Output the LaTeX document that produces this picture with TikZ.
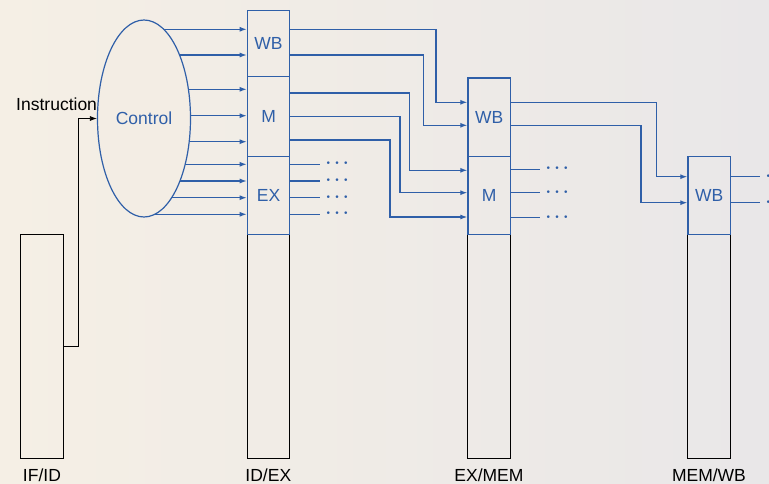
\documentclass[tikz,border=0pt]{standalone}
\usepackage{fontspec}
\setmainfont{Liberation Sans}
\usetikzlibrary{arrows.meta,positioning,shapes.geometric,backgrounds}
\definecolor{ctl}{HTML}{2F5FA8}
\definecolor{paperL}{HTML}{F5EFE5}
\definecolor{paperR}{HTML}{E9E7E8}
\definecolor{paperC}{HTML}{F3EDE4}

\begin{document}
\begin{tikzpicture}[x=1pt, y=-1pt,
  sig/.style={draw=ctl, line width=1.2pt, -{Latex[length=7pt,width=5pt]}},
  wire/.style={draw=ctl, line width=1.2pt},
  field/.style={draw=ctl, line width=1.2pt, minimum width=42.5pt, inner sep=0pt, anchor=north west, text=ctl, font=\fontsize{17.5}{20}\selectfont},
  reg/.style={draw=black, line width=0.8pt, minimum width=42.5pt, minimum height=224pt, inner sep=0pt, anchor=north west},
  lbl/.style={font=\fontsize{17.5}{20}\selectfont},
  more/.style={text=ctl, font=\fontsize{16}{16}\selectfont\boldmath, anchor=mid west, inner sep=0pt, xshift=5pt, yshift=-1pt}
]
  \useasboundingbox (0,0) rectangle (769,484);

  % pipeline registers
  \node[reg] (ifid) at (20.3,234) {};
  \node[reg] (idex) at (246.7,234) {};
  \node[reg] (exmem) at (467.3,234) {};
  \node[reg] (memwb) at (687.3,234) {};

  % control fields carried along
  \node[field, minimum height=65.7pt] (idwb) at (246.7,10.3) {WB};
  \node[field, minimum height=80pt] (idm) at (246.7,76) {M};
  \node[field, minimum height=78pt] (idexf) at (246.7,156) {EX};
  \node[field, minimum height=78.5pt] (exwb) at (467.3,77.5) {WB};
  \node[field, minimum height=78pt] (exm) at (467.3,156) {M};
  \node[field, minimum height=78pt] (mwb) at (687.3,156) {WB};

  \node[ellipse, draw=ctl, line width=1.2pt, fill=paperC, minimum width=93pt, minimum height=197pt, inner sep=0pt, text=ctl, font=\fontsize{17.5}{20}\selectfont] (ctrl) at (144,118.5) {Control};

  \node[lbl, anchor=south east] (instr) at (100.5,114) {Instruction};

  \node[lbl, below=6pt of ifid] (ifidname) {IF/ID};
  \node[lbl, below=6pt of idex] (idexname) {ID/EX};
  \node[lbl, below=6pt of exmem] (exmemname) {EX/MEM};
  \node[lbl, below=6pt of memwb] (memwbname) {MEM/WB};

  \begin{scope}[on background layer]
    \shade[left color=paperL, right color=paperR] (0,0) rectangle (769,484);
    \foreach \y in {29.3,55,89.3,115.7,141.7,164.3,181,197.7,214.3}
      \draw[sig] (ctrl.center |- 0,\y) -- (idwb.west |- 0,\y);
  \end{scope}

  \draw[black, line width=0.8pt, -{Latex[length=7pt,width=5pt]}] (ifid.east |- 0,346.7) -- (78.4,346.7) |- (ctrl.west);

  % ID/EX -> EX/MEM
  \foreach \ya/\xm/\yb/\src/\dst in {29.3/436/102.3/idwb/exwb, 55/423.3/125.3/idwb/exwb,
      93/409.3/170.3/idm/exm, 116.7/400/192.7/idm/exm, 140/390/217/idm/exm}
    \draw[sig] (\src.east |- 0,\ya) -| (\xm,\yb) -- (\dst.west |- 0,\yb);

  \foreach \y [count=\i] in {164.3,181,197.7,214.3}
    \draw[wire] (idexf.east |- 0,\y) -- (320,\y) node[more] (exdots\i) {$\cdots$};

  % EX/MEM -> MEM/WB
  \foreach \ya/\xm/\yb in {102.7/656.7/176.7, 125.3/641/202.7}
    \draw[sig] (exwb.east |- 0,\ya) -| (\xm,\yb) -- (mwb.west |- 0,\yb);

  \foreach \y [count=\i] in {169.3,192.7,217.7}
    \draw[wire] (exm.east |- 0,\y) -- (540,\y) node[more] (mdots\i) {$\cdots$};

  \foreach \y [count=\i] in {176.7,202.7}
    \draw[wire] (mwb.east |- 0,\y) -- (760,\y) node[more] (wbdots\i) {$\cdots$};
\end{tikzpicture}
\end{document}
